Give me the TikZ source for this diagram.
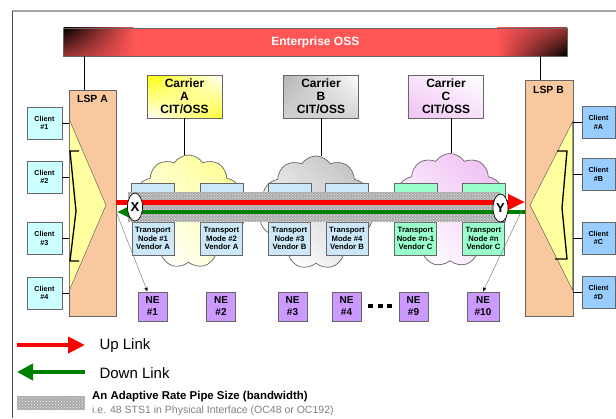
\documentclass[tikz,border=0pt]{standalone}
\usepackage{fontspec}
\setmainfont{Liberation Sans}
\usetikzlibrary{shapes.symbols,shapes.geometric,arrows.meta,patterns,shadings}

\newlength{\du}
\setlength{\du}{1pt}

\definecolor{ossred}{rgb}{1.000000, 0.333333, 0.333333}
\definecolor{lspcolor}{rgb}{0.980392, 0.784314, 0.623529}
\definecolor{muxcolor}{rgb}{1.000000, 1.000000, 0.623529}
\definecolor{clientcyan}{rgb}{0.800000, 1.000000, 1.000000}
\definecolor{clientblue}{rgb}{0.600000, 0.800000, 1.000000}
\definecolor{vendorab}{rgb}{0.800000, 0.905882, 0.972549}
\definecolor{vendorc}{rgb}{0.600000, 1.000000, 0.800000}
\definecolor{necolor}{rgb}{0.800000, 0.600000, 1.000000}
\definecolor{upcolor}{rgb}{1.000000, 0.000000, 0.000000}
\definecolor{downcolor}{rgb}{0.000000, 0.501961, 0.000000}
\definecolor{pipecolor}{rgb}{0.670000, 0.670000, 0.670000}
\definecolor{pinkc}{rgb}{0.941176, 0.760784, 0.960784}
\definecolor{edgegray}{rgb}{0.400000, 0.400000, 0.400000}

\tikzset{
  box/.style={draw=edgegray, line width=0.6\du, inner sep=0\du, align=center},
  client/.style={box, minimum width=35\du, minimum height=32\du,
    font=\bfseries\fontsize{7.2}{8.3}\selectfont},
  lspbox/.style={draw=edgegray, line width=0.6\du, fill=lspcolor, inner sep=0\du},
  lsplabel/.style={font=\bfseries\fontsize{10.4}{12}\selectfont},
  carrier/.style={box, minimum width=75\du, minimum height=43\du,
    font=\bfseries\fontsize{12}{13}\selectfont},
  cloudnode/.style={cloud, cloud puffs=11, cloud puff arc=115, aspect=1,
    draw=edgegray, line width=0.7\du, minimum width=113\du, minimum height=113\du},
  tnode/.style={box, minimum width=42\du, minimum height=33\du,
    font=\bfseries\fontsize{7.7}{8.5}\selectfont},
  nebox/.style={box, fill=necolor, minimum width=29\du, minimum height=29\du,
    font=\bfseries\fontsize{10}{12}\selectfont},
  granite/.style={fill=pipecolor, inner sep=0\du,
    postaction={pattern=crosshatch dots, pattern color=white!85!gray}},
  uplink/.style={upcolor, line width=5\du, -{Triangle[length=17pt, width=15pt]}},
  downlink/.style={downcolor, line width=4\du, -{Triangle[length=15pt, width=13pt]}},
  endpoint/.style={ellipse, draw=black, fill=white, line width=0.7\du, inner sep=0\du,
    minimum width=15\du, minimum height=28\du, font=\bfseries\fontsize{13}{13}\selectfont},
  nelink/.style={gray, line width=0.5\du, -{Latex[length=4pt, width=3.5pt, color=black]}},
  wire/.style={black, line width=1\du}
}

\begin{document}
\begin{tikzpicture}[x=\du, y=-\du]
\useasboundingbox (0,0) rectangle (616,418);
% page frame
\draw[gray!70, line width=1.2\du] (12,11) -- (616,11);
\draw[black!70, line width=1\du] (12,11) -- (12,418);

% Enterprise OSS bar
\node[draw=edgegray, fill=ossred, minimum width=503\du, minimum height=28\du, inner sep=0\du] (oss) at (315.3,42) {};
\shade[upper left=black, lower left=ossred!60!black, upper right=ossred, lower right=ossred]
  (oss.north west) rectangle ([xshift=70\du]oss.south west);
\shade[upper left=ossred, lower left=ossred, upper right=ossred!60!black, lower right=black]
  ([xshift=-70\du]oss.north east) rectangle (oss.south east);
\draw[edgegray, line width=0.6\du] (oss.north west) rectangle (oss.south east);
\node[text=white, font=\bfseries\fontsize{12}{14}\selectfont] (osstext) at (oss) {Enterprise OSS};

% carrier CIT/OSS boxes and their clouds
\node[carrier, upper left=yellow, upper right=white, lower left=white, lower right=yellow!80] (carA) at (184.5,96.5) {Carrier\\A\\CIT/OSS};
\node[carrier, upper left=gray!60, upper right=white, lower left=gray!35, lower right=gray!35] (carB) at (321,96.5) {Carrier\\B\\CIT/OSS};
\node[carrier, upper left=pinkc!45, upper right=white, lower left=pinkc, lower right=pinkc!50] (carC) at (446,96.5) {Carrier\\C\\CIT/OSS};

\node[cloudnode, top color=yellow!40, bottom color=white, shading angle=-45] (cloudA) at (188.5,211.5) {};
\node[cloudnode, top color=gray!45, bottom color=white, shading angle=-45] (cloudB) at (316,212.5) {};
\node[cloudnode, top color=pinkc, bottom color=white, shading angle=-45] (cloudC) at (450,210) {};

\draw[wire] (carA) -- (carA |- cloudA.north);
\draw[wire] (carB) -- (carB |- cloudB.north);
\draw[wire] ([xshift=5\du]carC.south) -- ([xshift=5\du]carC.south |- cloudC.north);

% LSP A and LSP B
\node[lspbox, minimum width=47\du, minimum height=226\du] (lspA) at (92.5,203) {};
\node[lspbox, minimum width=48\du, minimum height=236\du] (lspB) at (549,198) {};
\draw[wire] ([xshift=15.5\du]lspA.north west) -- ([xshift=15.5\du]lspA.north west |- oss.south);
\draw[wire] ([xshift=16\du]lspB.north west) -- ([xshift=16\du]lspB.north west |- oss.south);
\filldraw[fill=muxcolor, draw=edgegray, line width=0.5\du] (69.5,120) -- (106,205) -- (69.5,290) -- cycle;
\filldraw[fill=muxcolor, draw=edgegray, line width=0.5\du] (572.5,122) -- (530,205) -- (572.5,290) -- cycle;
\draw[wire, line width=1.3\du] (79,151) -- (70,151) -- (76,211) -- (70,261) -- (79,261);
\draw[wire, line width=1.3\du] (557,151) -- (567,151) -- (562,208) -- (567,259) -- (555,259);
\node[lsplabel] (lspAname) at (92.5,99) {LSP A};
\node[lsplabel] (lspBname) at (548.5,90) {LSP B};

% clients
\node[client, fill=clientcyan] (c1) at (44.5,123) {Client\\\#1};
\node[client, fill=clientcyan] (c2) at (44.5,177) {Client\\\#2};
\node[client, fill=clientcyan] (c3) at (44.5,238.5) {Client\\\#3};
\node[client, fill=clientcyan] (c4) at (44.5,293) {Client\\\#4};
\node[client, fill=clientblue, minimum width=33\du] (cA) at (598.5,122.5) {Client\\\#A};
\node[client, fill=clientblue, minimum width=33\du] (cB) at (598.5,174.5) {Client\\\#B};
\node[client, fill=clientblue, minimum width=33\du] (cC) at (598.5,238) {Client\\\#C};
\node[client, fill=clientblue, minimum width=33\du] (cD) at (598.5,292.5) {Client\\\#D};
\foreach \c in {c1,c2,c3,c4}
  \draw[wire] (\c.east) -- (\c.east -| lspA.west);
\foreach \c in {cA,cB,cC,cD}
  \draw[wire] (\c.west) -- (\c.west -| lspB.east);

% transport nodes, the pipe runs across them
\node[tnode, fill=vendorab] (t1) at (153,238.5) {Transport\\Node \#1\\Vendor A};
\node[tnode, fill=vendorab] (t2) at (221.5,238.5) {Transport\\Mode \#2\\Vendor A};
\node[tnode, fill=vendorab] (t3) at (289.5,238.5) {Transport\\Node \#3\\Vendor B};
\node[tnode, fill=vendorab] (t4) at (347,238.5) {Transport\\Mode \#4\\Vendor B};
\node[tnode, fill=vendorc] (t5) at (415.5,238.5) {Transport\\Node \#n-1\\Vendor C};
\node[tnode, fill=vendorc] (t6) at (483.5,238.5) {Transport\\Node \#n\\Vendor C};
\foreach \t/\f in {t1/vendorab,t2/vendorab,t3/vendorab,t4/vendorab,t5/vendorc,t6/vendorc}
  \filldraw[fill=\f, draw=edgegray, line width=0.6\du] (\t.north west) rectangle ([yshift=38\du]\t.north east);

\node[granite, minimum width=372\du, minimum height=30\du] (pipe) at (314,207) {};

\coordinate (upA) at (116,202);
\coordinate (upB) at (525,202);
\coordinate (dnB) at (525,212);
\coordinate (dnA) at (117,212);
\draw[uplink] (upA) -- (upB);
\draw[downlink] (dnB) -- (dnA);
\node[endpoint] (xend) at (135,207) {X};
\node[endpoint] (yend) at (500.5,208) {Y};

% network elements
\node[nebox] (ne1) at (152.5,306.5) {NE\\\#1};
\node[nebox] (ne2) at (221,306.5) {NE\\\#2};
\node[nebox] (ne3) at (292.5,306.5) {NE\\\#3};
\node[nebox] (ne4) at (346.5,306.5) {NE\\\#4};
\node[nebox] (ne9) at (413.5,306.5) {NE\\\#9};
\node[nebox, minimum width=32\du] (ne10) at (483,306.5) {NE\\\#10};
\foreach \x in {368,377.5,387}
  \fill (\x,304) rectangle ++(5,4);
\coordinate (tapA) at (117,214);
\coordinate (tapB) at (522,210);
\draw[nelink] (tapA) -- ([xshift=-5\du]ne1.north);
\draw[nelink] (tapB) -- (ne10.north);

% legend
\coordinate (legupL) at (17,345);
\coordinate (legupR) at (85,345);
\coordinate (legdnL) at (17,372);
\coordinate (legdnR) at (85,372);
\draw[uplink, line width=4\du, -{Triangle[length=17pt, width=16pt]}] (legupL) -- (legupR);
\draw[downlink, line width=4\du, -{Triangle[length=16pt, width=16pt]}] (legdnR) -- (legdnL);
\node[anchor=west, font=\fontsize{15}{17}\selectfont] (uptext) at (96,346) {Up Link};
\node[anchor=west, font=\fontsize{15}{17}\selectfont] (dntext) at (96,373) {Down Link};
\node[granite, minimum width=68\du, minimum height=14\du] (legpipe) at (51,403) {};
\node[anchor=west, inner sep=0\du, font=\bfseries\fontsize{11.4}{13}\selectfont] (pipetext) at (92,397) {An Adaptive Rate Pipe Size (bandwidth)};
\node[anchor=west, inner sep=0\du, text=gray, font=\fontsize{10.5}{12}\selectfont] (pipenote) at (92,410.5) {i.e. 48 STS1 in Physical Interface (OC48 or OC192)};
\end{tikzpicture}
\end{document}
